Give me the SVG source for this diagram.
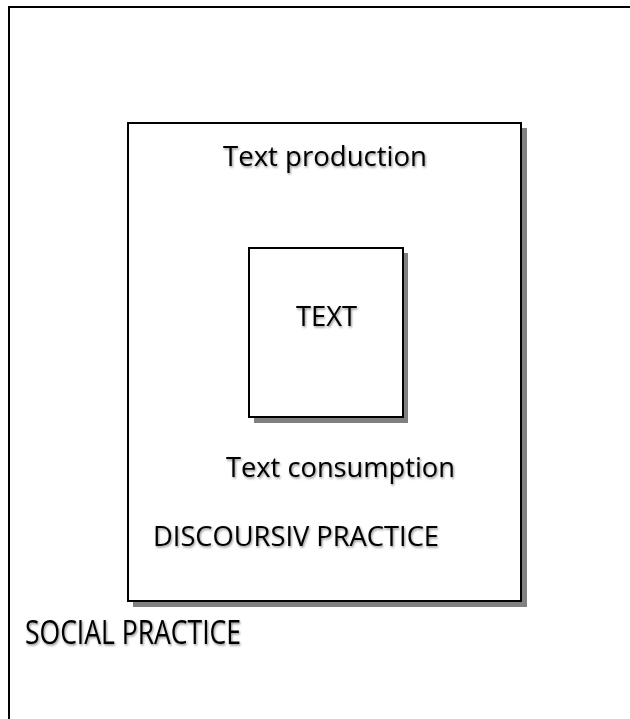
<svg xmlns="http://www.w3.org/2000/svg" width="630" height="719" viewBox="0 0 630 719">
<style>
.box{fill:#fff;stroke:#000;stroke-width:2}
.shadow{fill:#808080}
.lbl{font-family:"Open Sans","Liberation Sans",sans-serif;fill:#000;filter:url(#ts)}
</style>
<defs>
<filter id="ts" x="-5%" y="-20%" width="110%" height="150%">
<feDropShadow dx="1" dy="1.5" stdDeviation="0.8" flood-color="#000" flood-opacity="0.45"/>
</filter>
</defs>
<rect width="630" height="719" fill="#fff"/>
<g id="social-practice">
<rect class="box" x="9" y="7" width="640" height="730"/>
<text class="lbl" x="25" y="644" font-size="32" textLength="216" lengthAdjust="spacingAndGlyphs">SOCIAL PRACTICE</text>
</g>
<g id="discoursive-practice">
<rect class="shadow" x="133" y="128" width="394" height="479"/>
<rect class="box" x="128" y="123" width="393" height="478"/>
<text class="lbl" x="223" y="166" font-size="27" textLength="204" lengthAdjust="spacingAndGlyphs">Text production</text>
<text class="lbl" x="226" y="477" font-size="27" textLength="229" lengthAdjust="spacingAndGlyphs">Text consumption</text>
<text class="lbl" x="153" y="546" font-size="27" textLength="286" lengthAdjust="spacingAndGlyphs">DISCOURSIV PRACTICE</text>
</g>
<g id="text">
<rect class="shadow" x="254" y="253" width="154" height="170"/>
<rect class="box" x="249" y="248" width="154" height="169"/>
<text class="lbl" x="296" y="326" font-size="27" textLength="61" lengthAdjust="spacingAndGlyphs">TEXT</text>
</g>
<g id="connectors"></g>
</svg>
